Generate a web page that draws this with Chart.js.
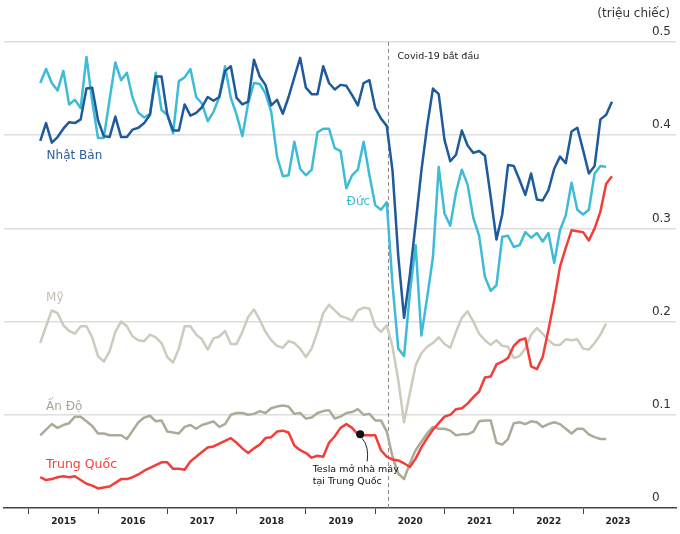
<!DOCTYPE html>
<html>
<head>
<meta charset="utf-8">
<title>Sản lượng ô tô theo tháng</title>
<script src="https://cdn.jsdelivr.net/npm/chart.js@4.4.1/dist/chart.umd.min.js"></script>
<style>
  html, body { margin: 0; padding: 0; background: #fff; }
  #chart { display: block; }
</style>
</head>
<body>
<canvas id="chart" width="680" height="534"></canvas>
<script>
// x is counted in months from Jan 2015; the series start in Mar 2015
const FIRST_MONTH = 2;
const years = ['2015', '2016', '2017', '2018', '2019', '2020', '2021', '2022', '2023'];
const yearStarts = [0, 12, 24, 36, 48, 60, 72, 84, 96];
const yLabels = ['0', '0.1', '0.2', '0.3', '0.4', '0.5'];

// triệu chiếc / tháng
const japan = [
  0.394, 0.413, 0.392, 0.398, 0.407, 0.414, 0.413, 0.417, 0.450, 0.451,
  0.416, 0.399, 0.398, 0.420, 0.398, 0.398, 0.406, 0.408, 0.413, 0.422, 0.463, 0.463,
  0.422, 0.405, 0.405, 0.433, 0.421, 0.424, 0.430, 0.441, 0.437, 0.441, 0.469, 0.474,
  0.440, 0.433, 0.436, 0.481, 0.463, 0.454, 0.432, 0.438, 0.423, 0.441, 0.462, 0.483,
  0.451, 0.444, 0.444, 0.474, 0.456, 0.449, 0.454, 0.453, 0.443, 0.432, 0.456, 0.459,
  0.429, 0.418, 0.410, 0.362, 0.270, 0.204, 0.250, 0.305, 0.362, 0.410, 0.450, 0.444,
  0.395, 0.372, 0.379, 0.405, 0.389, 0.381, 0.383, 0.378, 0.334, 0.288, 0.315, 0.368,
  0.367, 0.352, 0.336, 0.359, 0.331, 0.330, 0.341, 0.364, 0.377, 0.370, 0.404, 0.408,
  0.384, 0.359, 0.367, 0.417, 0.422, 0.436
];
const germany = [
  0.456, 0.471, 0.456, 0.448, 0.469, 0.433, 0.438, 0.429, 0.484, 0.436,
  0.397, 0.397, 0.438, 0.478, 0.459, 0.467, 0.440, 0.424, 0.419, 0.423, 0.467, 0.427,
  0.422, 0.402, 0.458, 0.462, 0.471, 0.441, 0.434, 0.415, 0.425, 0.441, 0.474, 0.440,
  0.422, 0.399, 0.434, 0.456, 0.455, 0.445, 0.425, 0.377, 0.356, 0.357, 0.393, 0.364,
  0.357, 0.363, 0.403, 0.407, 0.407, 0.386, 0.383, 0.343, 0.357, 0.363, 0.393, 0.357,
  0.325, 0.320, 0.328, 0.240, 0.171, 0.163, 0.230, 0.282, 0.185, 0.226, 0.269, 0.366,
  0.316, 0.303, 0.339, 0.363, 0.347, 0.311, 0.292, 0.248, 0.233, 0.239, 0.291, 0.292,
  0.280, 0.282, 0.296, 0.290, 0.295, 0.286, 0.295, 0.263, 0.298, 0.314, 0.349, 0.320,
  0.315, 0.320, 0.359, 0.367, 0.366, null
];
const usa = [
  0.177, 0.195, 0.212, 0.209, 0.196, 0.190, 0.187, 0.195, 0.195, 0.183,
  0.163, 0.157, 0.168, 0.189, 0.200, 0.195, 0.184, 0.180, 0.179, 0.186, 0.183, 0.177,
  0.162, 0.156, 0.171, 0.195, 0.195, 0.186, 0.181, 0.170, 0.182, 0.184, 0.190, 0.176,
  0.176, 0.189, 0.205, 0.213, 0.202, 0.189, 0.180, 0.174, 0.172, 0.179, 0.177, 0.171,
  0.162, 0.171, 0.189, 0.209, 0.218, 0.212, 0.206, 0.204, 0.201, 0.212, 0.215, 0.214,
  0.195, 0.189, 0.196, 0.173, 0.137, 0.092, 0.123, 0.153, 0.166, 0.173, 0.177, 0.183,
  0.176, 0.172, 0.189, 0.204, 0.211, 0.200, 0.187, 0.180, 0.175, 0.180, 0.174, 0.173,
  0.161, 0.163, 0.171, 0.186, 0.193, 0.187, 0.180, 0.175, 0.175, 0.181, 0.180, 0.181,
  0.171, 0.170, 0.177, 0.186, 0.198, null
];
const india = [
  0.078, 0.084, 0.090, 0.086, 0.089, 0.091, 0.098, 0.098, 0.093, 0.088,
  0.080, 0.080, 0.078, 0.078, 0.078, 0.074, 0.083, 0.092, 0.097, 0.099, 0.093, 0.094,
  0.082, 0.081, 0.080, 0.087, 0.089, 0.085, 0.089, 0.091, 0.093, 0.087, 0.090, 0.100,
  0.102, 0.102, 0.100, 0.101, 0.104, 0.102, 0.107, 0.109, 0.110, 0.109, 0.101, 0.102,
  0.096, 0.097, 0.102, 0.104, 0.105, 0.096, 0.098, 0.102, 0.103, 0.106, 0.100, 0.101,
  0.094, 0.094, 0.082, 0.055, 0.037, 0.031, 0.048, 0.062, 0.071, 0.080, 0.087, 0.085,
  0.085, 0.083, 0.078, 0.079, 0.079, 0.082, 0.093, 0.094, 0.094, 0.070, 0.068, 0.074,
  0.091, 0.092, 0.090, 0.093, 0.092, 0.087, 0.090, 0.092, 0.090, 0.085, 0.080, 0.085,
  0.085, 0.079, 0.076, 0.074, 0.074, null
];
const china = [
  0.033, 0.030, 0.031, 0.033, 0.034, 0.033, 0.034, 0.030, 0.026, 0.024,
  0.021, 0.022, 0.023, 0.027, 0.031, 0.031, 0.033, 0.036, 0.040, 0.043, 0.046, 0.049,
  0.049, 0.042, 0.042, 0.041, 0.050, 0.055, 0.060, 0.065, 0.066, 0.069, 0.072, 0.075,
  0.070, 0.064, 0.059, 0.064, 0.068, 0.075, 0.076, 0.082, 0.083, 0.081, 0.067, 0.062,
  0.059, 0.054, 0.056, 0.055, 0.070, 0.077, 0.086, 0.090, 0.086, 0.079, 0.078, 0.078,
  0.078, 0.062, 0.055, 0.052, 0.051, 0.048, 0.044, 0.053, 0.065, 0.075, 0.084, 0.091,
  0.098, 0.100, 0.106, 0.107, 0.112, 0.119, 0.125, 0.140, 0.141, 0.154, 0.157, 0.161,
  0.174, 0.180, 0.182, 0.152, 0.149, 0.162, 0.191, 0.223, 0.259, 0.279, 0.298, 0.297,
  0.296, 0.287, 0.300, 0.318, 0.348, 0.356
];

// events
const covidMonth = 62.3;
const covidText = 'Covid-19 bắt đầu';
const teslaPoint = { x: 57.4, y: 0.079 };
const teslaText = ['Tesla mở nhà máy', 'tại Trung Quốc'];

// series names, with anchor in data units (month, value)
const seriesNames = [
  { text: 'Nhật Bản', month: 3.1, value: 0.378, color: '#2a5f9f', size: 12 },
  { text: 'Đức', month: 55.05, value: 0.328, color: '#3bb9d5', size: 12 },
  { text: 'Mỹ', month: 3.0, value: 0.225, color: '#c3c0b3', size: 12 },
  { text: 'Ấn Độ', month: 3.0, value: 0.1087, color: '#aaa694', size: 12 },
  { text: 'Trung Quốc', month: 3.0, value: 0.046, color: '#f0413d', size: 12.5 }
];

const FONT = '"DejaVu Sans", Verdana, sans-serif';

function toPoints(values) {
  return values
    .map((v, i) => ({ x: FIRST_MONTH + i, y: v }))
    .filter(p => p.y !== null);
}

function lineSet(label, values, color) {
  return {
    label,
    data: toPoints(values),
    borderColor: color,
    borderWidth: 2.5,
    borderJoinStyle: 'round',
    pointRadius: 0,
    tension: 0,
    fill: false
  };
}

const notes = {
  id: 'notes',
  beforeDatasetsDraw(chart) {
    const { ctx, chartArea, scales: { x } } = chart;
    const cx = Math.round(x.getPixelForValue(covidMonth)) + 0.5;
    ctx.save();
    ctx.strokeStyle = '#8c8c8c';
    ctx.lineWidth = 1;
    ctx.setLineDash([4, 3]);
    ctx.beginPath();
    ctx.moveTo(cx, chartArea.top);
    ctx.lineTo(cx, chartArea.bottom);
    ctx.stroke();
    ctx.restore();
  },
  afterDatasetsDraw(chart) {
    const { ctx, chartArea, scales: { x, y } } = chart;
    ctx.save();
    ctx.textBaseline = 'middle';
    ctx.textAlign = 'left';

    // unit
    ctx.font = '12px ' + FONT;
    ctx.fillStyle = '#333';
    ctx.textAlign = 'right';
    ctx.fillText('(triệu chiếc)', chartArea.right - 6, 14);
    ctx.textAlign = 'left';

    // covid note
    const cx = x.getPixelForValue(covidMonth);
    ctx.font = '9.5px ' + FONT;
    ctx.fillStyle = '#222';
    ctx.fillText(covidText, cx + 9, chartArea.top + 15);

    // tesla callout
    const dx = x.getPixelForValue(teslaPoint.x);
    const dy = y.getPixelForValue(teslaPoint.y);
    ctx.strokeStyle = '#222';
    ctx.lineWidth = 1;
    ctx.beginPath();
    ctx.moveTo(dx + 2, dy + 4);
    ctx.quadraticCurveTo(dx + 9, dy + 12, dx + 7, dy + 27);
    ctx.stroke();
    ctx.fillStyle = '#111';
    teslaText.forEach((t, i) => ctx.fillText(t, dx - 47.5, dy + 35 + i * 12));

    // series names
    seriesNames.forEach(s => {
      ctx.font = s.size + 'px ' + FONT;
      ctx.fillStyle = s.color;
      ctx.fillText(s.text, x.getPixelForValue(s.month), y.getPixelForValue(s.value));
    });
    ctx.restore();
  }
};

Chart.defaults.font.family = FONT;

new Chart(document.getElementById('chart'), {
  type: 'line',
  data: {
    datasets: [
      {
        type: 'scatter',
        label: 'Tesla',
        data: [teslaPoint],
        pointRadius: 4,
        backgroundColor: '#111',
        borderWidth: 0
      },
      lineSet('Trung Quốc', china, '#f23e38'),
      lineSet('Nhật Bản', japan, '#1f5a9b'),
      lineSet('Đức', germany, '#3ebbd6'),
      lineSet('Ấn Độ', india, '#aeaa98'),
      lineSet('Mỹ', usa, '#cdcabe')
    ]
  },
  options: {
    responsive: false,
    animation: false,
    devicePixelRatio: 1,
    layout: { padding: { top: 42, left: 0, right: 0, bottom: 0 } },
    plugins: {
      legend: { display: false },
      tooltip: { enabled: false }
    },
    scales: {
      x: {
        type: 'linear',
        min: -4.28,
        max: 112.09,
        afterBuildTicks: s => { s.ticks = yearStarts.map(v => ({ value: v })); },
        afterFit: s => { s.height = 26; },
        grid: { drawOnChartArea: false, drawTicks: true, tickLength: 6, color: '#444', lineWidth: 1 },
        border: { display: true, color: '#444', width: 1.5 },
        ticks: {
          autoSkip: false,
          maxRotation: 0,
          padding: 2,
          labelOffset: 35,
          color: '#222',
          font: { size: 9, weight: 'bold' },
          callback: (v, i) => years[i]
        }
      },
      y: {
        position: 'right',
        min: 0,
        max: 0.5,
        afterFit: s => { s.width = 0; },
        grid: {
          drawTicks: false,
          lineWidth: 1.5,
          color: c => (c.tick && c.tick.value === 0 ? 'rgba(0,0,0,0)' : '#dedede')
        },
        border: { display: false },
        ticks: {
          stepSize: 0.1,
          mirror: true,
          crossAlign: 'far',
          padding: -5,
          labelOffset: -10,
          color: '#333',
          font: { size: 12 },
          callback: (v, i) => yLabels[i]
        }
      }
    }
  },
  plugins: [notes]
});
</script>
</body>
</html>
